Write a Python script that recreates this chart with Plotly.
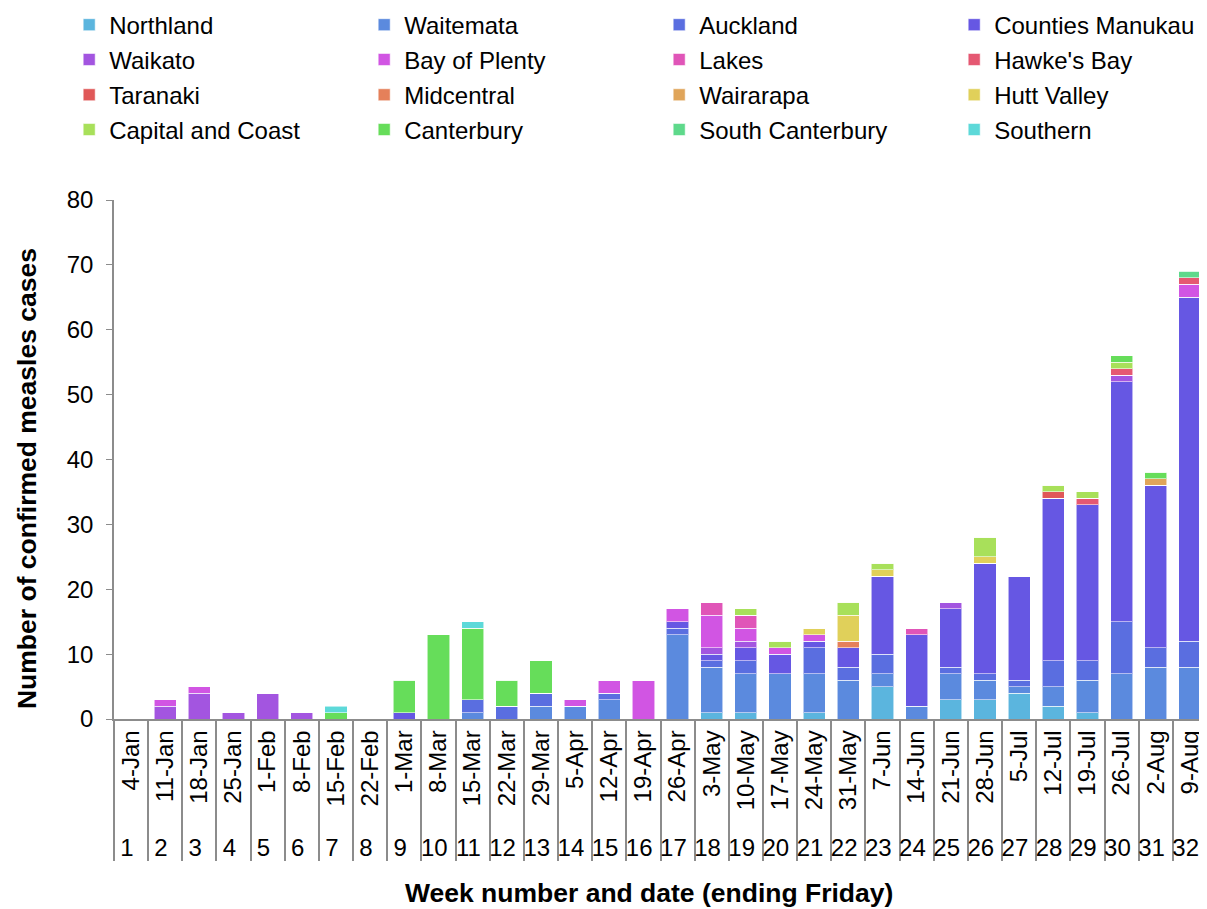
import plotly.graph_objects as go

weeks = [str(i) for i in range(1, 33)]
dates = ["4-Jan", "11-Jan", "18-Jan", "25-Jan", "1-Feb", "8-Feb", "15-Feb", "22-Feb",
         "1-Mar", "8-Mar", "15-Mar", "22-Mar", "29-Mar", "5-Apr", "12-Apr", "19-Apr",
         "26-Apr", "3-May", "10-May", "17-May", "24-May", "31-May", "7-Jun", "14-Jun",
         "21-Jun", "28-Jun", "5-Jul", "12-Jul", "19-Jul", "26-Jul", "2-Aug", "9-Aug"]

#                    1  2  3  4  5  6  7  8  9 10 11 12 13 14 15 16 17 18 19 20 21 22 23 24 25 26 27 28 29 30 31 32
northland =         [0, 0, 0, 0, 0, 0, 0, 0, 0, 0, 0, 0, 0, 0, 0, 0, 0, 1, 1, 0, 1, 0, 5, 0, 3, 3, 4, 2, 1, 0, 0, 0]
waitemata =         [0, 0, 0, 0, 0, 0, 0, 0, 0, 0, 1, 0, 2, 2, 3, 0, 13, 7, 6, 7, 6, 6, 2, 2, 4, 3, 1, 3, 5, 7, 8, 8]
auckland =          [0, 0, 0, 0, 0, 0, 0, 0, 0, 0, 2, 2, 2, 0, 1, 0, 1, 1, 2, 0, 4, 2, 3, 0, 1, 1, 1, 4, 3, 8, 3, 4]
counties_manukau =  [0, 0, 0, 0, 0, 0, 0, 0, 1, 0, 0, 0, 0, 0, 0, 0, 1, 1, 2, 3, 1, 3, 12, 11, 9, 17, 16, 25, 24, 37, 25, 53]
waikato =           [0, 2, 4, 1, 4, 1, 0, 0, 0, 0, 0, 0, 0, 0, 0, 0, 0, 1, 1, 0, 0, 0, 0, 0, 1, 0, 0, 0, 0, 1, 0, 0]
bay_of_plenty =     [0, 1, 1, 0, 0, 0, 0, 0, 0, 0, 0, 0, 0, 1, 2, 6, 2, 5, 2, 1, 1, 0, 0, 0, 0, 0, 0, 0, 0, 0, 0, 2]
lakes =             [0, 0, 0, 0, 0, 0, 0, 0, 0, 0, 0, 0, 0, 0, 0, 0, 0, 2, 2, 0, 0, 0, 0, 1, 0, 0, 0, 0, 0, 0, 0, 0]
hawkes_bay =        [0, 0, 0, 0, 0, 0, 0, 0, 0, 0, 0, 0, 0, 0, 0, 0, 0, 0, 0, 0, 0, 0, 0, 0, 0, 0, 0, 0, 1, 1, 0, 1]
taranaki =          [0, 0, 0, 0, 0, 0, 0, 0, 0, 0, 0, 0, 0, 0, 0, 0, 0, 0, 0, 0, 0, 0, 0, 0, 0, 0, 0, 1, 0, 0, 0, 0]
midcentral =        [0, 0, 0, 0, 0, 0, 0, 0, 0, 0, 0, 0, 0, 0, 0, 0, 0, 0, 0, 0, 0, 1, 0, 0, 0, 0, 0, 0, 0, 0, 0, 0]
wairarapa =         [0, 0, 0, 0, 0, 0, 0, 0, 0, 0, 0, 0, 0, 0, 0, 0, 0, 0, 0, 0, 0, 0, 0, 0, 0, 0, 0, 0, 0, 0, 1, 0]
hutt_valley =       [0, 0, 0, 0, 0, 0, 0, 0, 0, 0, 0, 0, 0, 0, 0, 0, 0, 0, 0, 0, 1, 4, 1, 0, 0, 1, 0, 0, 0, 0, 0, 0]
capital_and_coast = [0, 0, 0, 0, 0, 0, 0, 0, 0, 0, 0, 0, 0, 0, 0, 0, 0, 0, 1, 1, 0, 2, 1, 0, 0, 3, 0, 1, 1, 1, 0, 0]
canterbury =        [0, 0, 0, 0, 0, 0, 1, 0, 5, 13, 11, 4, 5, 0, 0, 0, 0, 0, 0, 0, 0, 0, 0, 0, 0, 0, 0, 0, 0, 1, 1, 0]
south_canterbury =  [0, 0, 0, 0, 0, 0, 0, 0, 0, 0, 0, 0, 0, 0, 0, 0, 0, 0, 0, 0, 0, 0, 0, 0, 0, 0, 0, 0, 0, 0, 0, 1]
southern =          [0, 0, 0, 0, 0, 0, 1, 0, 0, 0, 1, 0, 0, 0, 0, 0, 0, 0, 0, 0, 0, 0, 0, 0, 0, 0, 0, 0, 0, 0, 0, 0]

series = [
    ("Northland", northland, "#5BB5DE"),
    ("Waitemata", waitemata, "#5B8ADE"),
    ("Auckland", auckland, "#5A6EE0"),
    ("Counties Manukau", counties_manukau, "#6657E3"),
    ("Waikato", waikato, "#A355E0"),
    ("Bay of Plenty", bay_of_plenty, "#D155E3"),
    ("Lakes", lakes, "#E055B8"),
    ("Hawke's Bay", hawkes_bay, "#E55872"),
    ("Taranaki", taranaki, "#E05858"),
    ("Midcentral", midcentral, "#E5805A"),
    ("Wairarapa", wairarapa, "#E0A55A"),
    ("Hutt Valley", hutt_valley, "#E0D05A"),
    ("Capital and Coast", capital_and_coast, "#A8E05A"),
    ("Canterbury", canterbury, "#66DD5A"),
    ("South Canterbury", south_canterbury, "#5ED98B"),
    ("Southern", southern, "#5DD9D9"),
]

x_title = "Week number and date (ending Friday)"
y_title = "Number of confirmed measles cases"

FONT = "Liberation Sans, Arial, sans-serif"

fig = go.Figure()
for i, (name, vals, color) in enumerate(series):
    row = i // 4
    fig.add_trace(go.Bar(
        x=[weeks, dates], y=vals, name=name,
        marker=dict(color=color, line=dict(color="rgba(255,255,255,0.55)", width=1)),
        legend="legend" if row == 0 else f"legend{row + 1}",
    ))

# page has an 8px body margin; figure is sized/offset to compensate
legend_rows_y = [1.337, 1.270, 1.202, 1.135]
legend_common = dict(orientation="h", x=-0.041, xanchor="left", yanchor="middle",
                     traceorder="normal", entrywidth=250,
                     font=dict(family=FONT, size=24, color="#000"),
                     bgcolor="rgba(0,0,0,0)", itemclick=False)
layout_legends = {}
for r, yy in enumerate(legend_rows_y):
    key = "legend" if r == 0 else f"legend{r + 1}"
    layout_legends[key] = dict(legend_common, y=yy)

fig.update_layout(
    width=1199, height=901,
    margin=dict(l=106, r=0, t=192, b=190, autoexpand=False),
    barmode="stack", bargap=0.35,
    plot_bgcolor="white", paper_bgcolor="white",
    font=dict(family=FONT, color="#000"),
    showlegend=True,
    **layout_legends,
)
fig.update_xaxes(
    type="multicategory", showline=True, linecolor="#8c8c8c", linewidth=1.5,
    showdividers=True, dividercolor="#8c8c8c", dividerwidth=1.5,
    tickangle=-90, ticks="", showgrid=False,
    tickfont=dict(family=FONT, size=24, color="#000"),
)
fig.update_yaxes(
    range=[0, 80], dtick=10, showline=True, linecolor="#8c8c8c", linewidth=1.5,
    ticks="outside", ticklen=6, tickcolor="#8c8c8c", showgrid=False, zeroline=False,
    ticklabelstandoff=8,
    tickfont=dict(family=FONT, size=24, color="#000"),
)

fig.add_annotation(text=f"<b>{x_title}</b>", xref="paper", yref="paper",
                   x=0.4895, y=0, yshift=-174, xanchor="center", yanchor="middle",
                   showarrow=False, font=dict(family=FONT, size=26.5, color="#000"))
fig.add_annotation(text=f"<b>{y_title}</b>", xref="paper", yref="paper",
                   x=0, xshift=-87, y=0.4624, xanchor="center", yanchor="middle",
                   textangle=-90, showarrow=False,
                   font=dict(family=FONT, size=26.5, color="#000"))

fig.write_html("out.html")
